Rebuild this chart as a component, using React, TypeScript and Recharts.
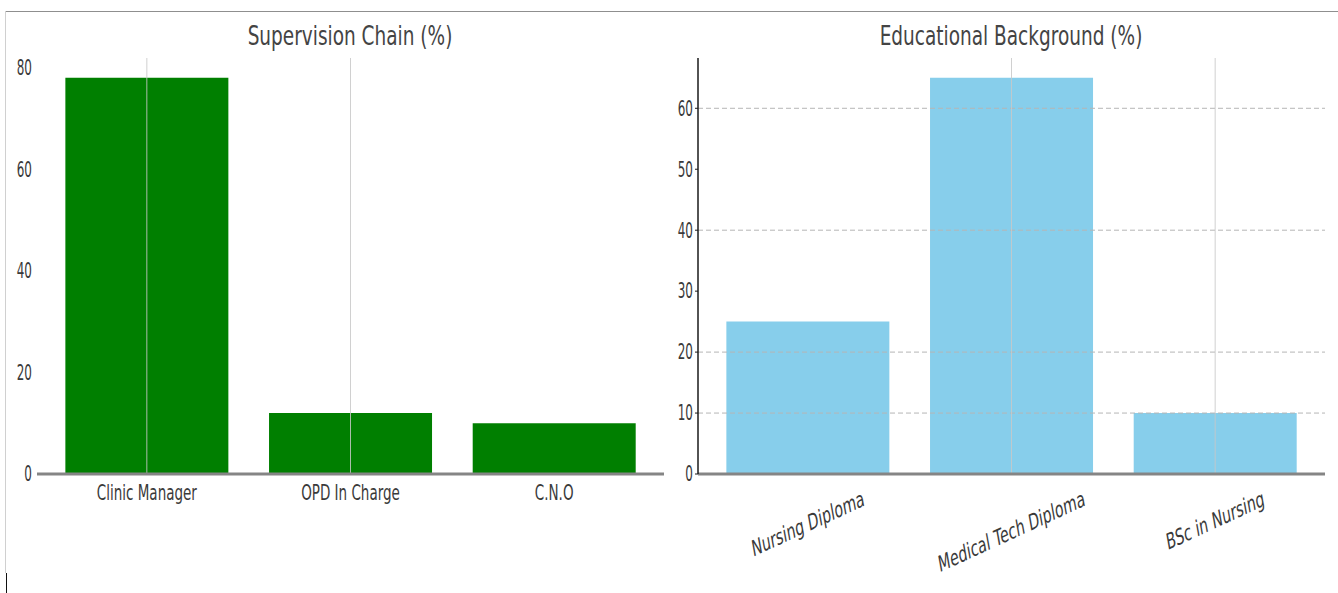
import { BarChart, Bar, XAxis, YAxis, ReferenceLine } from 'recharts';

// supervision chain
const supervisionRoles = ['Clinic Manager', 'OPD In Charge', 'C.N.O'];
const supervisionPct = [78, 12, 10];
const supervisionTicks = [0, 20, 40, 60, 80];
const supervisionGridX = ['Clinic Manager', 'OPD In Charge'];

// educational background
const eduLevels = ['Nursing Diploma', 'Medical Tech Diploma', 'BSc in Nursing'];
const eduPct = [25, 65, 10];
const eduTicks = [0, 10, 20, 30, 40, 50, 60];
const eduGridY = [10, 20, 40, 60];
const eduGridX = ['Medical Tech Diploma', 'BSc in Nursing'];

const FONT = '"DejaVu Sans", Verdana, sans-serif';
const TEXT = '#3a3a3a';
const STRETCH = 1.6;

let ctx: CanvasRenderingContext2D | null = null;
function textWidth(t: string, size: number) {
  if (!ctx) ctx = document.createElement('canvas').getContext('2d');
  if (!ctx) return t.length * size * 0.6;
  ctx.font = `${size}px "DejaVu Sans"`;
  return ctx.measureText(t).width;
}

function YTick({ x, y, payload }: any) {
  return (
    <g transform={`translate(${x},${y}) scale(1,1.7)`}>
      <text x={0} y={0} textAnchor="end" dominantBaseline="central" fontSize={12} fontFamily={FONT} fill={TEXT}>
        {payload.value}
      </text>
    </g>
  );
}

function FlatTick({ x, y, payload }: any) {
  return (
    <g transform={`translate(${x},${y + 18}) scale(1,${STRETCH})`}>
      <text x={0} y={0} textAnchor="middle" dominantBaseline="central" fontSize={13.5} fontFamily={FONT} fill={TEXT}>
        {payload.value}
      </text>
    </g>
  );
}

function SlantTick({ x, y, payload }: any) {
  const size = 14;
  const ang = 16;
  const rad = (ang * Math.PI) / 180;
  const w = textWidth(payload.value, size);
  const half = (STRETCH * (w * Math.sin(rad) + size * Math.cos(rad))) / 2;
  return (
    <g transform={`translate(${x},${y + 13 + half}) scale(1,${STRETCH}) rotate(${-ang})`}>
      <text x={0} y={0} textAnchor="middle" dominantBaseline="central" fontSize={size} fontFamily={FONT} fill={TEXT}>
        {payload.value}
      </text>
    </g>
  );
}

function Title({ text, cx }: { text: string; cx: number }) {
  return (
    <div
      style={{
        position: 'absolute',
        left: cx - 200,
        width: 400,
        top: 27,
        height: 18,
        lineHeight: '18px',
        fontSize: 18.5,
        fontFamily: FONT,
        color: '#444',
        textAlign: 'center',
        transform: 'scaleY(1.45)',
        whiteSpace: 'nowrap',
      }}
    >
      {text}
    </div>
  );
}

export default function App() {
  const supData = supervisionRoles.map((r, i) => ({ role: r, pct: supervisionPct[i] }));
  const eduData = eduLevels.map((l, i) => ({ level: l, pct: eduPct[i] }));

  return (
    <div style={{ position: 'absolute', left: 0, top: 0, width: 1338, height: 593, background: '#fff', overflow: 'hidden' }}>
      {/* frame bits from the screenshot */}
      <div style={{ position: 'absolute', left: 5, top: 11, width: 1333, height: 1, background: '#8f8f8f' }} />
      <div style={{ position: 'absolute', left: 5, top: 11, width: 1, height: 562, background: '#d0d0d0' }} />
      <div style={{ position: 'absolute', left: 6, top: 573, width: 1, height: 20, background: '#111' }} />

      <Title text="Supervision Chain (%)" cx={350} />
      <Title text="Educational Background (%)" cx={1011} />

      <div style={{ position: 'absolute', left: 0, top: 0 }}>
        <BarChart width={669} height={593} data={supData} margin={{ top: 58, right: 5, left: 0, bottom: 79 }} barCategoryGap="10%">
          <XAxis
            dataKey="role"
            height={40}
            padding={{ left: 8, right: 8 }}
            axisLine={{ stroke: '#858585', strokeWidth: 3 }}
            tickLine={false}
            tickSize={0}
            tickMargin={0}
            tick={<FlatTick />}
            interval={0}
          />
          <YAxis
            width={37}
            domain={[0, (max: number) => max * 1.05]}
            ticks={supervisionTicks}
            axisLine={false}
            tickLine={false}
            tickSize={0}
            tickMargin={5}
            tick={<YTick />}
          />
          <Bar dataKey="pct" fill="#007f00" isAnimationActive={false} />
          {supervisionGridX.map(c => (
            <ReferenceLine key={c} x={c} stroke="#c8c8c8" strokeOpacity={0.85} strokeWidth={1} />
          ))}
        </BarChart>
      </div>

      <div style={{ position: 'absolute', left: 660, top: 0 }}>
        <BarChart width={678} height={593} data={eduData} margin={{ top: 58, right: 13, left: 0, bottom: 79 }} barCategoryGap="10%">
          <XAxis
            dataKey="level"
            height={40}
            padding={{ left: 8, right: 8 }}
            axisLine={{ stroke: '#858585', strokeWidth: 3 }}
            tickLine={false}
            tickSize={0}
            tickMargin={0}
            tick={<SlantTick />}
            interval={0}
          />
          <YAxis
            width={38}
            domain={[0, (max: number) => max * 1.05]}
            ticks={eduTicks}
            axisLine={{ stroke: '#1a1a1a', strokeWidth: 1.5 }}
            tickLine={{ stroke: '#1a1a1a' }}
            tickSize={3}
            tickMargin={2}
            tick={<YTick />}
          />
          <Bar dataKey="pct" fill="#87ceeb" isAnimationActive={false} />
          {eduGridY.map(v => (
            <ReferenceLine key={v} y={v} stroke="#b5b5b5" strokeDasharray="5 3" strokeWidth={1} />
          ))}
          {eduGridX.map(c => (
            <ReferenceLine key={c} x={c} stroke="#c8c8c8" strokeOpacity={0.85} strokeWidth={1} />
          ))}
        </BarChart>
      </div>
    </div>
  );
}
